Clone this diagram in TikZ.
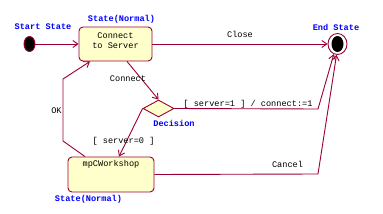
\documentclass[tikz,border=0pt]{standalone}
\usepackage{fontspec}
\newfontfamily\pix{Liberation Mono}
\usetikzlibrary{arrows.meta,shapes.geometric,calc}
\definecolor{edge}{HTML}{990033}
\definecolor{statefill}{HTML}{FFFFCC}
\definecolor{lblue}{HTML}{0000FF}
\begin{document}
\begin{tikzpicture}[x=1pt,y=-1pt,
  conn/.style={draw=edge,line width=0.9pt,-{Straight Barb[length=5pt,width=7pt]}},
  plain/.style={draw=edge,line width=0.9pt},
  statebox/.style={draw=edge,line width=0.9pt,fill=statefill,rounded corners=4pt,inner sep=0pt},
  txt/.style={font=\pix\fontsize{8.6}{9.5}\selectfont,text=black,inner sep=0pt},
  blue/.style={font=\pix\bfseries\fontsize{8.6}{9.5}\selectfont,text=lblue,inner sep=0pt}]
\useasboundingbox (0,0) rectangle (383,214);
% states
\node[ellipse,draw=edge,fill=black,line width=0.9pt,minimum width=11pt,minimum height=15pt,inner sep=0pt] (start) at (29.5,44) {};
\node[statebox,minimum width=73pt,minimum height=34pt] (cs) at (115.5,44) {};
\node[txt,align=center] (cst) at (115.5,40.5) {Connect\\to Server};
\node[ellipse,draw=edge,line width=0.9pt,minimum width=19pt,minimum height=21pt,inner sep=0pt] (end) at (337.5,44) {};
\node[ellipse,fill=black,minimum width=12pt,minimum height=16pt,inner sep=0pt] (endin) at (337.5,44) {};
\node[diamond,draw=edge,fill=statefill,line width=0.9pt,minimum width=31pt,minimum height=17pt,inner sep=0pt] (dec) at (158.5,108.5) {};
\node[statebox,minimum width=86pt,minimum height=35pt] (ws) at (111,174.5) {};
\node[txt] (wst) at (111,164) {mpCWorkshop};
% blue labels
\node[blue] (l1) at (43,27) {Start State};
\node[blue] (l2) at (121.5,19) {State(Normal)};
\node[blue] (l3) at (336,27) {End State};
\node[blue] (l4) at (174,123) {Decision};
\node[blue] (l5) at (88.5,199) {State(Normal)};
% corner coordinates
\coordinate (k1) at (318,109);
\coordinate (k2) at (318,174);
\coordinate (k3) at (63,141);
\coordinate (k4) at (63,79);
% connectors
\draw[conn] (start.east) -- (cs.west);
\draw[conn] (cs.east) -- (end.west);
\node[txt] (close) at (240,34) {Close};
\draw[conn] ([xshift=11.5pt]cs.south) -- (dec.north);
\node[txt] (cl) at (128,79) {Connect};
\draw[conn] (dec.east) -- (k1) -- (end.250);
\node[txt] (s1) at (248,104) {[ server=1 ] / connect:=1};
\draw[conn] (dec.west) -- ([xshift=8pt]ws.north);
\node[txt] (s0) at (123.5,141) {[ server=0 ]};
\draw[conn] ([xshift=-26pt]ws.north) -- (k3) -- (k4) -- ([xshift=-25.5pt]cs.south);
\node[txt] (ok) at (56.5,111) {OK};
\draw[conn] (ws.east) -- (k2) -- (end.265);
\node[txt] (cancel) at (287.5,164) {Cancel};
\end{tikzpicture}
\end{document}
